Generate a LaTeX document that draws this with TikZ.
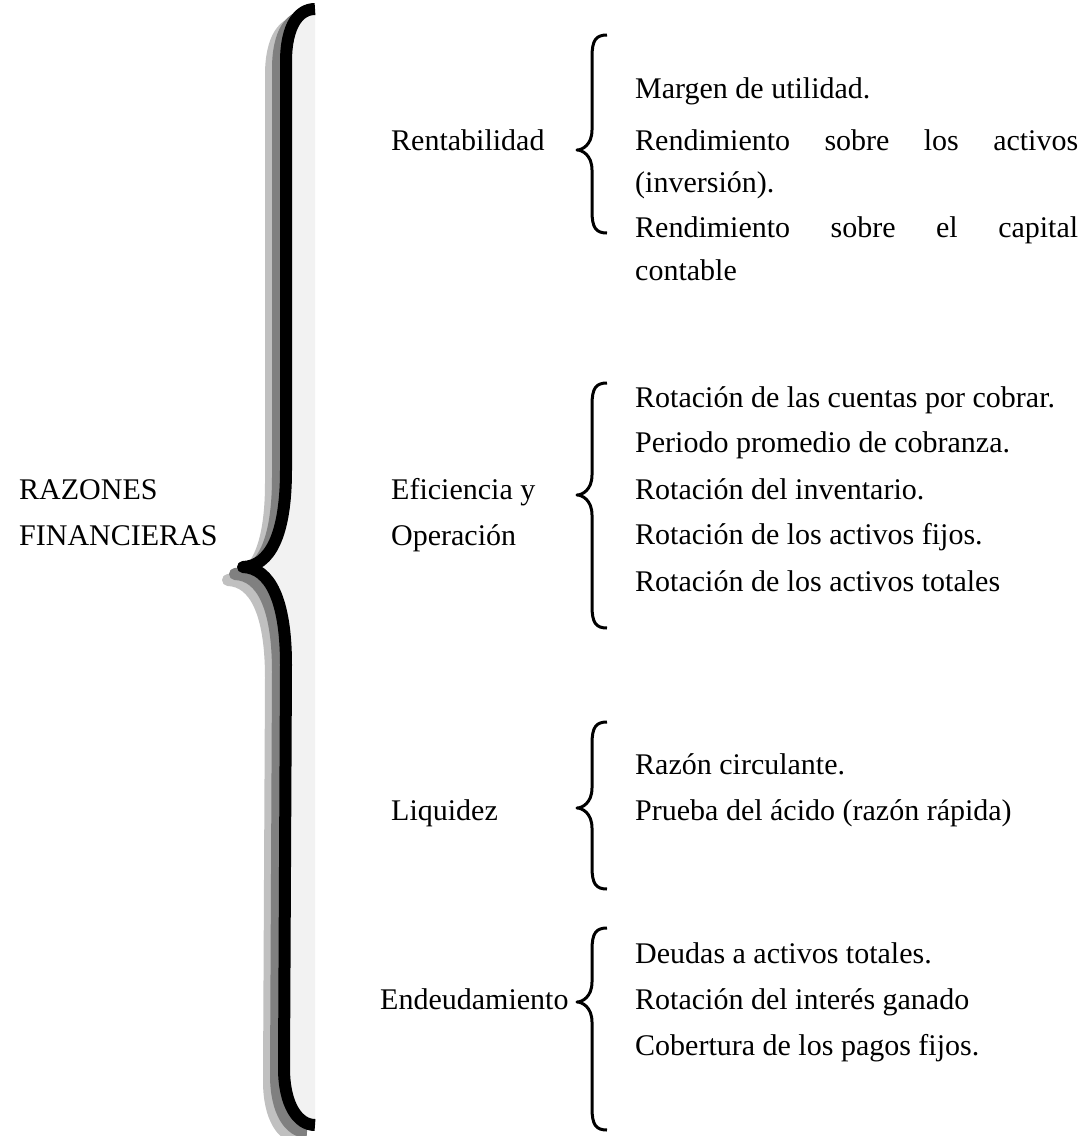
\documentclass[tikz,border=0pt]{standalone}
\usepackage{fontspec}
\setmainfont{Liberation Serif}
\definecolor{fillgray}{HTML}{F2F2F2}
\definecolor{shadowdark}{HTML}{808080}
\definecolor{shadowlight}{HTML}{C0C0C0}
% outline of the large left brace (x right, y down, in px)
\newcommand\bigbracepath{(315,9) .. controls (299,9) and (286,25) .. (286,62)
  -- (286,470) .. controls (286,535) and (270,566) .. (243,567)
  .. controls (270,568) and (286,600) .. (286,665)
  -- (284,1068) .. controls (284,1105) and (298,1125) .. (315,1125)}
% a small left brace: x of the ends, x of the tip, top, tip, bottom
\newcommand\smallbrace[5]{%
  \draw[smallbr] (#1,#3) .. controls ({#1-11},#3) and ({#2+15},{#3+5}) .. ({#2+15},{#3+22})
    -- ({#2+15},{#4-20}) .. controls ({#2+15},{#4-5}) and ({#2+5},#4) .. (#2,#4)
    .. controls ({#2+5},#4) and ({#2+15},{#4+5}) .. ({#2+15},{#4+20})
    -- ({#2+15},{#5-22}) .. controls ({#2+15},{#5-5}) and ({#1-11},#5) .. (#1,#5);}
\tikzset{
  txt/.style={anchor=base west, inner sep=0pt, font=\fontsize{30}{36}\selectfont},
  bigbr/.style={line width=12pt, line join=round, line cap=butt},
  smallbr/.style={line width=3pt, line join=round, line cap=butt, draw=black}
}
\begin{document}
\begin{tikzpicture}[x=1pt,y=-1pt]
\useasboundingbox (0,0) rectangle (1085,1136);

% large brace: two shadow layers, light fill, black outline
\draw[bigbr, shadowlight, shift={(-15,13)}] \bigbracepath;
\draw[bigbr, shadowdark, shift={(-8,7)}] \bigbracepath;
\fill[fillgray] \bigbracepath -- cycle;
\draw[bigbr, black] \bigbracepath;

% main title
\node[txt] (razones) at (19,499) {RAZONES};
\node[txt] (financieras) at (19,545) {FINANCIERAS};

% Rentabilidad
\node[txt] (rent) at (391,150) {Rentabilidad};
\smallbrace{607}{577}{35}{150}{233}
\node[txt] (r1) at (635,98) {Margen de utilidad.};
\node[txt] (r2) at (635,150) {\makebox[443pt][s]{Rendimiento sobre los activos}};
\node[txt] (r3) at (635,192) {(inversión).};
\node[txt] (r4) at (635,237) {\makebox[443pt][s]{Rendimiento sobre el capital}};
\node[txt] (r5) at (635,280) {contable};

% Eficiencia y Operación
\node[txt] (efi1) at (391,499) {Eficiencia y};
\node[txt] (efi2) at (391,545) {Operación};
\smallbrace{607}{577}{383}{495}{628}
\node[txt] (e1) at (635,407) {Rotación de las cuentas por cobrar.};
\node[txt] (e2) at (635,452) {Periodo promedio de cobranza.};
\node[txt] (e3) at (635,499) {Rotación del inventario.};
\node[txt] (e4) at (635,544) {Rotación de los activos fijos.};
\node[txt] (e5) at (635,591) {Rotación de los activos totales};

% Liquidez
\node[txt] (liq) at (391,820) {Liquidez};
\smallbrace{607}{577}{722}{808}{889}
\node[txt] (l1) at (635,774) {Razón circulante.};
\node[txt] (l2) at (635,820) {Prueba del ácido (razón rápida)};

% Endeudamiento
\node[txt] (end) at (380,1009) {Endeudamiento};
\smallbrace{607}{577}{928}{1002}{1130}
\node[txt] (d1) at (635,963) {Deudas a activos totales.};
\node[txt] (d2) at (635,1009) {Rotación del interés ganado};
\node[txt] (d3) at (635,1055) {Cobertura de los pagos fijos.};
\end{tikzpicture}
\end{document}
